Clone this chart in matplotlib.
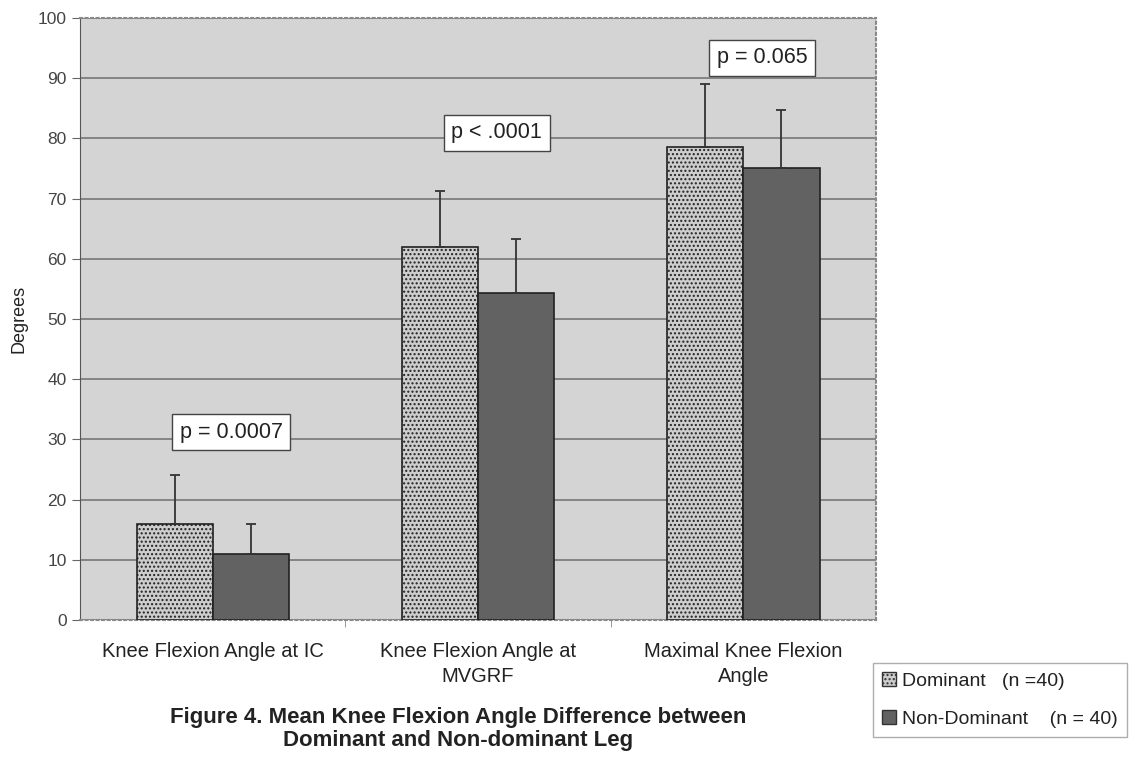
import numpy as np
from matplotlib import pyplot as plt
from matplotlib.patches import Patch

plt.rcParams['font.family'] = ['Liberation Sans', 'DejaVu Sans']

categorias = ['Knee Flexion Angle at IC', 'Knee Flexion Angle at\nMVGRF', 'Maximal Knee Flexion\nAngle']
dominante = [16, 62, 78.5]
dominante_err = [8, 9.2, 10.6]
no_dominante = [11, 54.3, 75]
no_dominante_err = [5, 9, 9.7]
p_valores = ['p = 0.0007', 'p < .0001', 'p = 0.065']
p_y = [31.2, 80.9, 93.4]
leyenda = ['Dominant   (n =40)', 'Non-Dominant    (n = 40)']

fig = plt.figure(figsize=(11.38, 7.62), dpi=100)
ax = fig.add_axes([0.0703, 0.1864, 0.6995, 0.790])
ax.set_facecolor('#d4d4d4')

x = np.arange(len(categorias))
ancho = 0.287
plt.rcParams['hatch.color'] = '#9a9a9a'
ax.bar(x - ancho/2, dominante, ancho, color='#cdcdcd', edgecolor='#222222',
       linewidth=1.2, hatch='....', zorder=3)
ax.bar(x + ancho/2, no_dominante, ancho, color='#626262', edgecolor='#222222',
       linewidth=1.2, zorder=3)
ax.errorbar(x - ancho/2, dominante, yerr=[np.zeros(3), dominante_err], fmt='none',
            ecolor='#333333', elinewidth=1.3, capsize=3.5, capthick=1.3, zorder=4)
ax.errorbar(x + ancho/2, no_dominante, yerr=[np.zeros(3), no_dominante_err], fmt='none',
            ecolor='#333333', elinewidth=1.3, capsize=3.5, capthick=1.3, zorder=4)

for i in range(len(p_valores)):
    ax.text(x[i] + 0.07, p_y[i], p_valores[i], fontsize=15.5, ha='center', va='center',
            color='#222222', zorder=5,
            bbox=dict(boxstyle='square,pad=0.35', facecolor='white', edgecolor='#444444', linewidth=1))

ax.set_xlim(-0.5, 2.5)
ax.set_ylim(0, 100)
ax.set_yticks(range(0, 101, 10))
ax.yaxis.grid(True, color='#6f6f6f', linewidth=1.1, zorder=1)
ax.set_axisbelow(True)
ax.set_xticks(x)
ax.set_xticklabels(categorias, fontsize=14.5, color='#222222', linespacing=1.4)
ax.set_xticks([0.5, 1.5], minor=True)
ax.tick_params(axis='x', which='major', length=0, pad=16)
ax.tick_params(axis='x', which='minor', length=5, color='#888888')
ax.tick_params(axis='y', length=6, color='#666666', labelsize=12.5, labelcolor='#444444')
ax.set_ylabel('Degrees', fontsize=13, color='#222222')
ax.yaxis.set_label_coords(-0.066, 0.5)
ax.spines['left'].set_color('#555555')
for lado in ['top', 'right', 'bottom']:
    ax.spines[lado].set_color('#888888')
    ax.spines[lado].set_linestyle(':')
    ax.spines[lado].set_linewidth(1.5)

fig.text(0.4025, 0.043, 'Figure 4. Mean Knee Flexion Angle Difference between\nDominant and Non-dominant Leg',
         fontsize=16, fontweight='bold', ha='center', va='center', color='#222222', linespacing=1.1)

handles = [Patch(facecolor='#cdcdcd', edgecolor='#333333', hatch='....'),
           Patch(facecolor='#626262', edgecolor='#333333')]
leg = fig.legend(handles, leyenda, loc='upper left', bbox_to_anchor=(0.767, 0.13),
                 fontsize=14, frameon=True, fancybox=False, edgecolor='#999999',
                 handlelength=0.75, handleheight=0.75, handletextpad=0.3,
                 labelspacing=1.05, borderpad=0.45, borderaxespad=0)
for t in leg.get_texts():
    t.set_color('#222222')

plt.savefig('out.png', dpi=100)
